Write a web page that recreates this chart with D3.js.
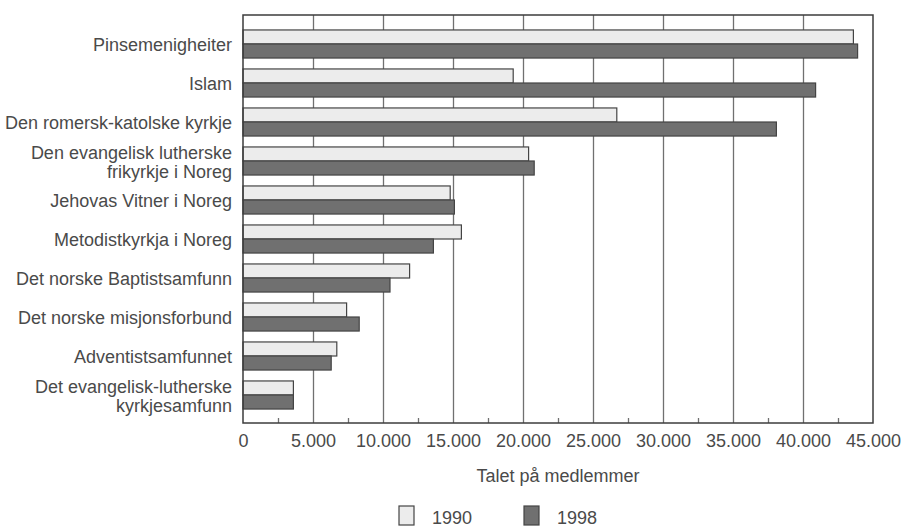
<!DOCTYPE html>
<html lang="en">
<head>
<meta charset="UTF-8">
<title>Medlemmer i trudomssamfunn</title>
<style>
body { margin: 0; background: #fff; }
text { font-family: "Liberation Sans", Arial, sans-serif; fill: #4a4a4a; }
.grid line { stroke: #707070; stroke-width: 1.3px; }
.grid path { display: none; }
.frame { fill: none; stroke: #3c3c3c; stroke-width: 1.5px; }
.bar90 { fill: #ececec; stroke: #444; stroke-width: 1.2px; }
.bar98 { fill: #707070; stroke: #444; stroke-width: 1.2px; }
</style>
</head>
<body>
<script src="https://cdn.jsdelivr.net/npm/d3@7/dist/d3.min.js"></script>
<script>
    var categories = [
        ["Pinsemenigheiter"],
        ["Islam"],
        ["Den romersk-katolske kyrkje"],
        ["Den evangelisk lutherske", "frikyrkje i Noreg"],
        ["Jehovas Vitner i Noreg"],
        ["Metodistkyrkja i Noreg"],
        ["Det norske Baptistsamfunn"],
        ["Det norske misjonsforbund"],
        ["Adventistsamfunnet"],
        ["Det evangelisk-lutherske", "kyrkjesamfunn"]
    ];
    var values1990 = [43600, 19300, 26700, 20400, 14800, 15600, 11900, 7400, 6700, 3600];
    var values1998 = [43900, 40900, 38100, 20800, 15100, 13600, 10500, 8300, 6300, 3600];
    var seriesNames = ["1990", "1998"];
    var majorTicks = [0, 5000, 10000, 15000, 20000, 25000, 30000, 35000, 40000, 45000];
    var minorTicks = [2500, 7500, 12500, 17500, 22500, 27500, 32500, 37500, 42500];

    var width = 901, height = 529;
    var plotTop = 15, plotBottom = 423;

    var loc = d3.formatLocale({ decimal: ",", thousands: ".", grouping: [3], currency: ["", ""] });
    var fmt = loc.format(",d");

    var x = d3.scaleLinear().domain([0, 45000]).range([243, 873]);
    var y = d3.scaleBand()
        .domain(d3.range(categories.length))
        .range([24.5, 414.5])
        .paddingInner(0.28)
        .paddingOuter(0.14);

    var svg = d3.select("body").append("svg")
        .attr("width", width)
        .attr("height", height);

    // vertical grid lines
    svg.append("g")
        .attr("class", "grid")
        .attr("transform", "translate(0," + plotBottom + ")")
        .call(d3.axisBottom(x).tickValues(majorTicks.slice(1, -1))
            .tickSize(-(plotBottom - plotTop)).tickFormat(""));

    // small ticks between grid lines
    svg.append("g")
        .attr("class", "grid")
        .attr("transform", "translate(0," + plotBottom + ")")
        .call(d3.axisBottom(x).tickValues(minorTicks).tickSize(-5).tickFormat(""));

    var rows = svg.append("g").selectAll("g")
        .data(categories)
        .enter().append("g");

    var bh = y.bandwidth() / 2;

    rows.append("rect")
        .attr("class", "bar90")
        .attr("x", x(0))
        .attr("y", function(d, i) { return y(i); })
        .attr("width", function(d, i) { return x(values1990[i]) - x(0); })
        .attr("height", bh);

    rows.append("rect")
        .attr("class", "bar98")
        .attr("x", x(0))
        .attr("y", function(d, i) { return y(i) + bh; })
        .attr("width", function(d, i) { return x(values1998[i]) - x(0); })
        .attr("height", bh);

    // category labels
    rows.append("text")
        .attr("text-anchor", "end")
        .attr("font-size", "18px")
        .attr("x", 232)
        .attr("y", function(d, i) { return y(i) + y.bandwidth() / 2 + 7 - (d.length - 1) * 9.5; })
        .selectAll("tspan")
        .data(function(d) { return d; })
        .enter().append("tspan")
        .attr("x", 232)
        .attr("dy", function(d, j) { return j === 0 ? 0 : 19; })
        .text(function(d) { return d; });

    svg.append("rect")
        .attr("class", "frame")
        .attr("x", x(0))
        .attr("y", plotTop)
        .attr("width", x(45000) - x(0))
        .attr("height", plotBottom - plotTop);

    // tick labels
    var xAxis = svg.append("g")
        .attr("transform", "translate(0," + plotBottom + ")")
        .call(d3.axisBottom(x).tickValues(majorTicks).tickSize(0).tickPadding(11).tickFormat(fmt));
    xAxis.select(".domain").remove();
    xAxis.selectAll("text")
        .attr("font-size", "18px")
        .attr("font-family", "Liberation Sans, Arial, sans-serif")
        .attr("fill", "#4a4a4a");

    svg.append("text")
        .attr("x", x(22500))
        .attr("y", 482)
        .attr("text-anchor", "middle")
        .attr("font-size", "18px")
        .text("Talet på medlemmer");

    // legend
    var legend = svg.append("g").selectAll("g")
        .data(seriesNames)
        .enter().append("g")
        .attr("transform", function(d, i) { return "translate(" + (399 + i * 125) + ",506)"; });

    legend.append("rect")
        .attr("class", function(d, i) { return i === 0 ? "bar90" : "bar98"; })
        .attr("width", 15)
        .attr("height", 19);

    legend.append("text")
        .attr("x", 33)
        .attr("y", 18)
        .attr("font-size", "18px")
        .text(function(d) { return d; });
</script>
</body>
</html>
